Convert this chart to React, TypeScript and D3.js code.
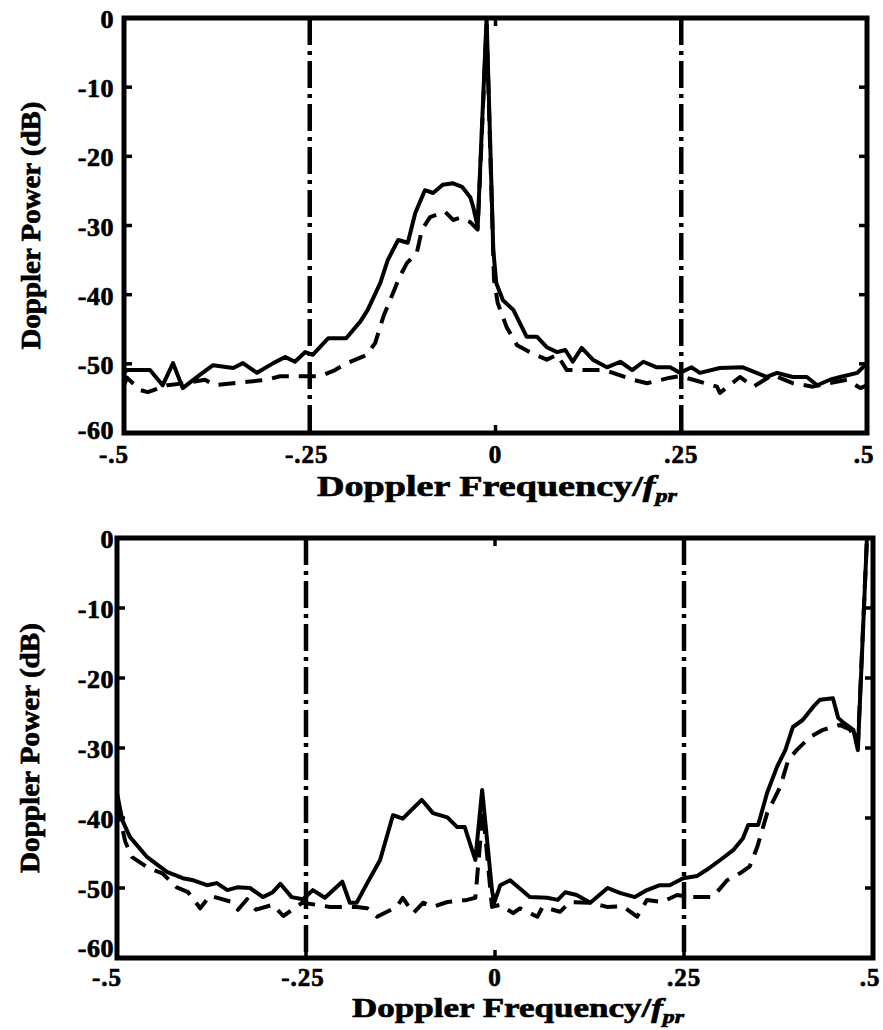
import React from 'react';
import * as d3 from 'd3';

// ---------- data ----------
const yTicks = [0, -10, -20, -30, -40, -50, -60];
const yTickLabels = ['0', '-10', '-20', '-30', '-40', '-50', '-60'];
const xTicks = [-0.5, -0.25, 0, 0.25, 0.5];
const xTickLabels = ['-.5', '-.25', '0', '.25', '.5'];
const innerXTicks = [-0.25, 0, 0.25];
const markerFreqs = [-0.25, 0.25];

const topSolidFreq = [-0.5,-0.496,-0.465,-0.448,-0.434,-0.421,-0.398,-0.38,-0.353,-0.34,-0.321,-0.299,-0.283,-0.27,-0.256,-0.246,-0.225,-0.201,-0.182,-0.172,-0.155,-0.145,-0.131,-0.118,-0.108,-0.095,-0.084,-0.071,-0.057,-0.045,-0.034,-0.03,-0.024,-0.012,-0.003,0.001,0.01,0.024,0.042,0.056,0.069,0.083,0.094,0.104,0.116,0.131,0.15,0.168,0.184,0.199,0.217,0.235,0.248,0.264,0.275,0.302,0.333,0.365,0.379,0.4,0.419,0.433,0.45,0.464,0.487,0.5];
const topSolidPower = [-51.3,-50.9,-50.9,-53.1,-49.9,-53.5,-51.6,-50.2,-50.6,-49.9,-51.3,-49.9,-49.0,-49.7,-48.3,-48.7,-46.3,-46.3,-43.9,-42.2,-38.3,-35.0,-32.1,-32.5,-28.2,-24.9,-25.3,-24.1,-23.9,-24.4,-25.9,-27.3,-30.2,0,-33.5,-38.3,-40.8,-42.2,-46.1,-46.1,-47.6,-48.3,-48.0,-49.7,-47.7,-49.4,-50.5,-49.7,-50.9,-49.7,-50.5,-50.5,-51.3,-50.5,-51.3,-50.6,-50.5,-51.9,-51.3,-51.9,-51.9,-53.1,-52.3,-51.9,-51.3,-49.9];

const topDashFreq = [-0.5,-0.496,-0.478,-0.468,-0.442,-0.418,-0.391,-0.378,-0.353,-0.334,-0.308,-0.29,-0.263,-0.236,-0.216,-0.2,-0.173,-0.162,-0.151,-0.138,-0.129,-0.119,-0.106,-0.099,-0.088,-0.068,-0.057,-0.048,-0.034,-0.024,-0.012,-0.002,0.003,0.015,0.029,0.046,0.069,0.083,0.096,0.114,0.145,0.158,0.185,0.204,0.235,0.248,0.266,0.298,0.302,0.329,0.347,0.373,0.4,0.427,0.45,0.473,0.491,0.5];
const topDashPower = [-53.1,-52.0,-53.8,-54.1,-53.1,-52.8,-52.3,-53.1,-52.8,-52.6,-52.3,-51.8,-51.8,-51.8,-50.9,-49.9,-48.7,-47.0,-43.2,-39.8,-37.4,-35.4,-34.0,-30.6,-28.8,-28.0,-29.2,-28.9,-29.5,-30.6,-1,-37.9,-41.2,-44.7,-47.3,-48.3,-49.4,-48.7,-50.9,-50.9,-50.9,-51.3,-52.3,-52.8,-52.0,-51.8,-52.3,-53.3,-54.2,-51.9,-53.3,-51.6,-52.8,-53.3,-52.8,-52.3,-53.5,-53.1];

const botSolidFreq = [-0.5,-0.493,-0.483,-0.46,-0.434,-0.413,-0.399,-0.381,-0.368,-0.354,-0.341,-0.324,-0.307,-0.294,-0.284,-0.269,-0.254,-0.241,-0.225,-0.202,-0.192,-0.183,-0.169,-0.152,-0.135,-0.122,-0.097,-0.082,-0.063,-0.05,-0.04,-0.026,-0.017,-0.004,-0.001,0.007,0.02,0.046,0.069,0.083,0.093,0.108,0.126,0.149,0.165,0.185,0.201,0.218,0.231,0.249,0.267,0.28,0.298,0.315,0.328,0.335,0.348,0.36,0.373,0.384,0.394,0.407,0.421,0.43,0.447,0.454,0.46,0.474,0.48,0.492];
const botSolidPower = [-36.4,-40.3,-42.7,-45.6,-47.7,-48.6,-48.9,-49.6,-49.3,-50.3,-49.9,-50.0,-51.3,-50.6,-49.4,-51.3,-51.6,-50.3,-51.4,-49.1,-52.1,-52.1,-49.3,-46.0,-39.6,-40.1,-37.4,-39.3,-39.9,-41.3,-41.3,-46.0,-36.0,-50.3,-52.1,-49.6,-48.9,-51.3,-51.4,-51.7,-50.6,-51.0,-52.1,-50.0,-50.7,-51.3,-50.3,-49.6,-49.6,-48.6,-48.3,-47.4,-46.0,-44.6,-42.9,-41.0,-41.0,-36.4,-32.7,-30.3,-27.0,-26.0,-24.1,-23.1,-22.9,-25.7,-26.3,-27.4,-30.3,0];

const botDashFreq = [-0.5,-0.489,-0.48,-0.459,-0.44,-0.421,-0.406,-0.39,-0.377,-0.348,-0.34,-0.328,-0.316,-0.294,-0.28,-0.255,-0.218,-0.183,-0.169,-0.156,-0.13,-0.122,-0.108,-0.095,-0.082,-0.063,-0.037,-0.026,-0.016,-0.004,0.007,0.024,0.033,0.056,0.063,0.086,0.099,0.126,0.148,0.169,0.188,0.201,0.221,0.241,0.258,0.288,0.307,0.324,0.337,0.347,0.36,0.377,0.388,0.399,0.417,0.434,0.456,0.47,0.48,0.492];
const botDashPower = [-38.1,-43.4,-45.6,-47.1,-47.9,-49.9,-50.6,-52.9,-51.1,-52.0,-53.1,-51.6,-53.1,-52.4,-54.0,-52.1,-52.7,-52.7,-52.9,-54.1,-52.7,-51.4,-53.6,-52.1,-52.7,-52.0,-51.7,-51.4,-38.9,-52.7,-52.4,-53.6,-52.9,-54.1,-52.7,-53.4,-52.0,-52.1,-52.7,-52.6,-54.1,-51.7,-52.0,-51.0,-51.3,-51.3,-48.9,-47.9,-46.9,-44.1,-39.3,-35.6,-31.7,-30.3,-28.4,-27.4,-26.7,-27.4,-29.6,0];

// ---------- layout ----------
const FONT = '"Liberation Serif", "Times New Roman", serif';

interface PanelLayout {
  left: number; right: number; top: number; bottom: number;
  titleStart: number; titleLen: number; titleBase: number; titleSize: number;
  yTitleX: number; yTitleLen: number;
  xLabelBase: number; yLabelRight: number; lastYLabelDy: number;
}

const topLayout: PanelLayout = {
  left: 124, right: 867, top: 18, bottom: 433,
  titleStart: 317, titleLen: 360, titleBase: 496, titleSize: 30,
  yTitleX: 40, yTitleLen: 248,
  xLabelBase: 463, yLabelRight: 114, lastYLabelDy: 6,
};
const botLayout: PanelLayout = {
  left: 117, right: 873, top: 538, bottom: 958,
  titleStart: 352, titleLen: 332, titleBase: 1017, titleSize: 28,
  yTitleX: 39, yTitleLen: 250,
  xLabelBase: 986, yLabelRight: 114, lastYLabelDy: -1,
};

function zip(f: number[], p: number[]): [number, number][] {
  const n = Math.min(f.length, p.length);
  const out: [number, number][] = [];
  for (let i = 0; i < n; i++) out.push([f[i], p[i]]);
  return out;
}

const xLabelShift = [-10, -3, 0, 0, -3];

function Panel({ L, solid, dashed, id }: { L: PanelLayout; solid: [number, number][]; dashed: [number, number][]; id: string }) {
  const x = d3.scaleLinear().domain([-0.5, 0.5]).range([L.left, L.right]);
  const y = d3.scaleLinear().domain([-60, 0]).range([L.bottom, L.top]);
  const line = d3.line<[number, number]>().x(d => x(d[0])).y(d => y(d[1]));
  const tickLen = 8;
  const midY = (L.top + L.bottom) / 2;
  const heavy = { stroke: '#000', strokeWidth: 0.7 } as const;
  return (
    <g>
      <defs>
        <clipPath id={id}>
          <rect x={L.left} y={L.top} width={L.right - L.left} height={L.bottom - L.top} />
        </clipPath>
      </defs>
      {markerFreqs.map((f, i) => (
        <line key={'m' + i} x1={x(f)} x2={x(f)} y1={L.top} y2={L.bottom}
          stroke="#000" strokeWidth={4.5} strokeDasharray="27 6 4 6" />
      ))}
      <g clipPath={`url(#${id})`}>
        <path d={line(dashed) || ''} fill="none" stroke="#000" strokeWidth={4} strokeDasharray="17 10" strokeLinejoin="round" />
        <path d={line(solid) || ''} fill="none" stroke="#000" strokeWidth={4} strokeLinejoin="round" />
      </g>
      {yTicks.slice(1, -1).map((v, i) => (
        <g key={'yt' + i}>
          <line x1={L.left} x2={L.left + tickLen} y1={y(v)} y2={y(v)} stroke="#000" strokeWidth={3.5} />
          <line x1={L.right} x2={L.right - tickLen} y1={y(v)} y2={y(v)} stroke="#000" strokeWidth={3.5} />
        </g>
      ))}
      {innerXTicks.map((v, i) => (
        <g key={'xt' + i}>
          <line x1={x(v)} x2={x(v)} y1={L.bottom} y2={L.bottom - tickLen} stroke="#000" strokeWidth={3.5} />
          <line x1={x(v)} x2={x(v)} y1={L.top} y2={L.top + tickLen} stroke="#000" strokeWidth={3.5} />
        </g>
      ))}
      <rect x={L.left} y={L.top} width={L.right - L.left} height={L.bottom - L.top}
        fill="none" stroke="#000" strokeWidth={5} />
      {yTicks.map((v, i) => (
        <text key={'yl' + i} x={L.yLabelRight} y={y(v) + (i === yTicks.length - 1 ? L.lastYLabelDy : 10)} textAnchor="end"
          fontFamily={FONT} fontWeight="bold" fontSize={26} letterSpacing={0.5} {...heavy}>
          {yTickLabels[i]}
        </text>
      ))}
      {xTicks.map((v, i) => (
        <text key={'xl' + i} x={x(v) + xLabelShift[i]} y={L.xLabelBase} textAnchor="middle"
          fontFamily={FONT} fontWeight="bold" fontSize={25} letterSpacing={1} {...heavy}>
          {xTickLabels[i]}
        </text>
      ))}
      <text x={L.titleStart} y={L.titleBase} fontFamily={FONT} fontWeight="bold" fontSize={L.titleSize}
        textLength={L.titleLen} lengthAdjust="spacingAndGlyphs" {...heavy}>
        Doppler Frequency/<tspan fontStyle="italic">f</tspan>
        <tspan fontStyle="italic" fontSize={19} dy={6}>pr</tspan>
      </text>
      <text transform={`translate(${L.yTitleX},${midY}) rotate(-90)`} textAnchor="middle"
        fontFamily={FONT} fontWeight="bold" fontSize={28}
        textLength={L.yTitleLen} lengthAdjust="spacingAndGlyphs" {...heavy}>
        Doppler Power (dB)
      </text>
    </g>
  );
}

export default function App() {
  return (
    <svg width={883} height={1030} style={{ position: 'absolute', left: 0, top: 0, background: '#fff' }}>
      <rect x={0} y={0} width={883} height={1030} fill="#fff" />
      <Panel L={topLayout} solid={zip(topSolidFreq, topSolidPower)} dashed={zip(topDashFreq, topDashPower)} id="clipTop" />
      <Panel L={botLayout} solid={zip(botSolidFreq, botSolidPower)} dashed={zip(botDashFreq, botDashPower)} id="clipBot" />
    </svg>
  );
}
